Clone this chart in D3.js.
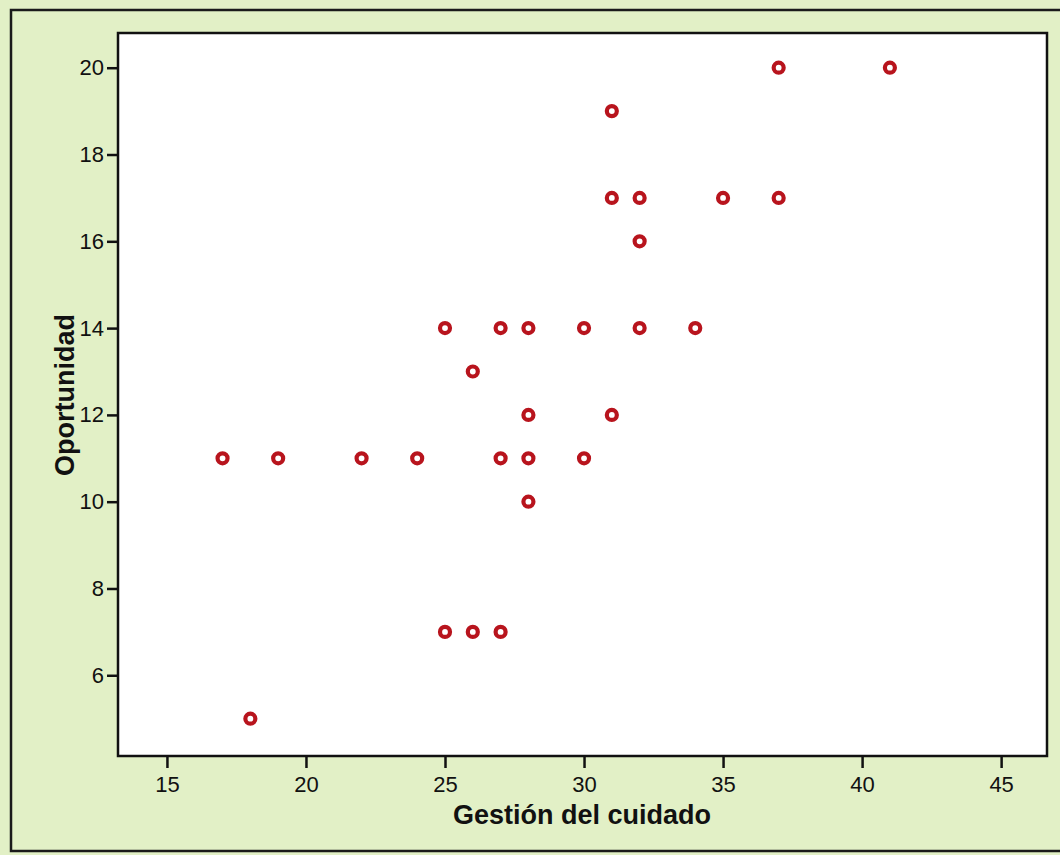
<!DOCTYPE html>
<html>
<head>
<meta charset="utf-8">
<script src="https://cdn.jsdelivr.net/npm/d3@7"></script>
<style>
  body { margin: 0; background: #fff; }
  svg { display: block; }
</style>
</head>
<body>
<div id="chart"></div>
<script>
// Gestión del cuidado (x) vs Oportunidad (y)
var gestion = [17, 18, 19, 22, 24, 25, 25, 26, 26, 27, 27, 27, 28, 28, 28, 28, 30, 30, 31, 31, 31, 32, 32, 32, 34, 35, 37, 37, 41];
var oportunidad = [11, 5, 11, 11, 11, 14, 7, 13, 7, 14, 11, 7, 14, 12, 11, 10, 14, 11, 19, 17, 12, 17, 16, 14, 14, 17, 20, 17, 20];
var xTicks = [15, 20, 25, 30, 35, 40, 45];
var yTicks = [6, 8, 10, 12, 14, 16, 18, 20];

var W = 1060, H = 855;
var margin = {top: 33, right: 13, bottom: 99, left: 118},
    width = W - margin.left - margin.right,
    height = H - margin.top - margin.bottom;

var font = "Arial, 'Liberation Sans', sans-serif";

var svg = d3.select("#chart")
    .append("svg")
        .attr("width", W)
        .attr("height", H);

// scanned page background + outer frame
svg.append("rect")
    .attr("width", W).attr("height", H)
    .attr("fill", "#e2f0c6");
svg.append("rect")
    .attr("x", 11).attr("y", 10)
    .attr("width", W + 10).attr("height", 841)
    .attr("fill", "none")
    .attr("stroke", "#1a1a1a")
    .attr("stroke-width", 2.5);

var g = svg.append("g")
    .attr("transform", "translate(" + margin.left + "," + margin.top + ")");

var x = d3.scaleLinear()
    .domain([13.24, 46.65])
    .range([0, width]);

var y = d3.scaleLinear()
    .domain([4.14, 20.8])
    .range([height, 0]);

g.append("rect")
    .attr("width", width).attr("height", height)
    .attr("fill", "#fff")
    .attr("stroke", "#111")
    .attr("stroke-width", 2.5);

var xAxis = g.append("g")
    .attr("transform", "translate(0," + height + ")")
    .call(d3.axisBottom(x).tickValues(xTicks).tickSize(12).tickPadding(8));

var yAxis = g.append("g")
    .call(d3.axisLeft(y).tickValues(yTicks).tickSize(11).tickPadding(3));

[xAxis, yAxis].forEach(function(a) {
    a.select(".domain").remove();
    a.selectAll("line").attr("stroke", "#111").attr("stroke-width", 2.5);
    a.selectAll("text")
        .attr("fill", "#111")
        .style("font-family", font)
        .style("font-size", "22px");
});

g.selectAll("circle.pt")
    .data(d3.range(gestion.length))
    .enter().append("circle")
        .attr("class", "pt")
        .attr("cx", i => x(gestion[i]))
        .attr("cy", i => y(oportunidad[i]))
        .attr("r", 5)
        .attr("fill", "none")
        .attr("stroke", "#b8141d")
        .attr("stroke-width", 4.2);

svg.append("text")
    .attr("x", margin.left + x(30) - 2)
    .attr("y", 824)
    .attr("text-anchor", "middle")
    .style("font-family", font)
    .style("font-weight", "bold")
    .style("font-size", "27px")
    .attr("fill", "#111")
    .text("Gestión del cuidado");

svg.append("text")
    .attr("transform", "translate(74,395) rotate(-90)")
    .attr("text-anchor", "middle")
    .style("font-family", font)
    .style("font-weight", "bold")
    .style("font-size", "27px")
    .attr("fill", "#111")
    .text("Oportunidad");
</script>
</body>
</html>
